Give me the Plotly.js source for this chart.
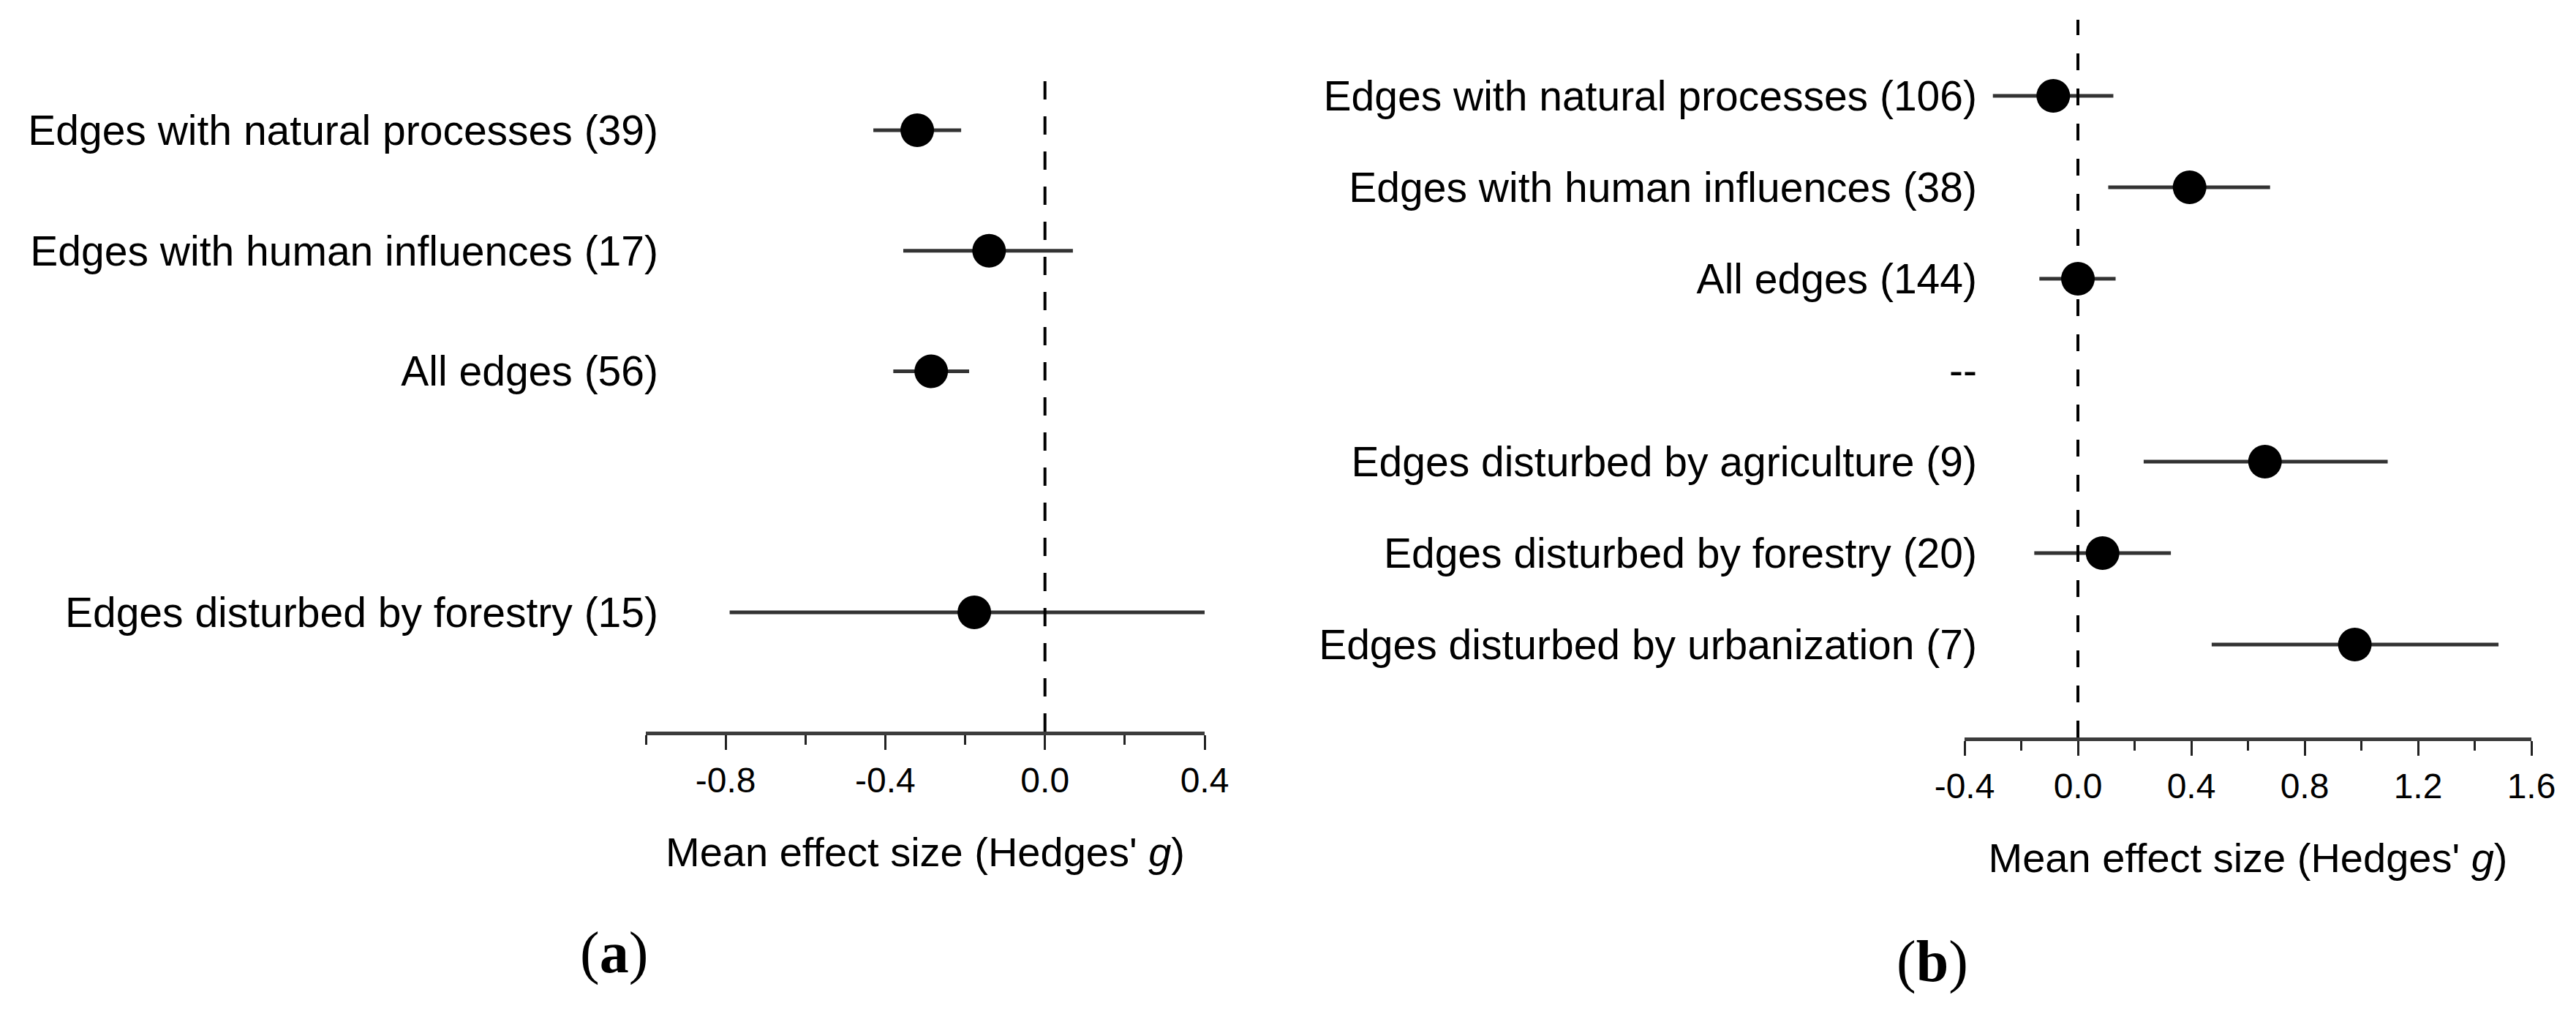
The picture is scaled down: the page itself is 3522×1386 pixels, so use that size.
<!DOCTYPE html>
<html>
<head>
<meta charset="utf-8">
<script src="https://cdn.plot.ly/plotly-3.0.1.min.js"></script>
<style>
  body { margin: 0; background: #fff; }
  #chart { width: 3522px; height: 1386px; }
</style>
</head>
<body>
<div id="chart"></div>
<script>
// panel (a)
const labelsA = ['Edges with natural processes (39)', 'Edges with human influences (17)', 'All edges (56)', ' ', 'Edges disturbed by forestry (15)']
const meanA = [-0.32, -0.14, -0.285, null, -0.177]
const lowA = [-0.43, -0.355, -0.38, null, -0.79]
const highA = [-0.21, 0.07, -0.19, null, 0.40]
const tickValsA = [-0.8, -0.4, 0.0, 0.4]
const tickTextA = ['-0.8', '-0.4', '0.0', '0.4']

// panel (b)
const labelsB = ['Edges with natural processes (106)', 'Edges with human influences (38)', 'All edges (144)', '--', 'Edges disturbed by agriculture (9)', 'Edges disturbed by forestry (20)', 'Edges disturbed by urbanization (7)']
const meanB = [-0.087, 0.394, 0.0, null, 0.66, 0.087, 0.977]
const lowB = [-0.30, 0.107, -0.136, null, 0.232, -0.154, 0.472]
const highB = [0.125, 0.678, 0.133, null, 1.093, 0.328, 1.484]
const tickValsB = [-0.4, 0.0, 0.4, 0.8, 1.2, 1.6]
const tickTextB = ['-0.4', '0.0', '0.4', '0.8', '1.2', '1.6']

const W = 3522, H = 1386
const FONT = 'Liberation Sans, Arial, sans-serif'

const makeTrace = (means, lows, highs, labels, xa, ya) => {
    return {
        type: 'scatter',
        mode: 'markers',
        x: means,
        y: labels,
        xaxis: xa,
        yaxis: ya,
        marker: {color: '#000', size: 46},
        error_x: {
            type: 'data',
            symmetric: false,
            array: highs.map((h, i) => h === null ? null : h - means[i]),
            arrayminus: lows.map((l, i) => l === null ? null : means[i] - l),
            thickness: 5,
            width: 0,
            color: '#333'
        },
        hoverinfo: 'skip'
    }
}

const xBase = {
    showline: true, linecolor: '#3c3c3c', linewidth: 5,
    ticks: 'outside', ticklen: 20, tickwidth: 3, tickcolor: '#222',
    tickmode: 'array',
    minor: {tick0: 0, dtick: 0.2, ticks: 'outside', ticklen: 13, tickwidth: 3, tickcolor: '#222'},
    showgrid: false, zeroline: false,
    tickfont: {family: FONT, size: 48, color: '#000'},
    title: {text: "Mean effect size (Hedges' <i>g</i>)", font: {family: FONT, size: 56, color: '#000'}, standoff: 55},
    automargin: false, fixedrange: true
}
const yBase = {
    type: 'category', anchor: 'free',
    showline: false, ticks: '', showgrid: false, zeroline: false,
    tickfont: {family: FONT, size: 57, color: '#000'},
    automargin: false, fixedrange: true
}

const data = [
    makeTrace(meanA, lowA, highA, labelsA, 'x', 'y'),
    makeTrace(meanB, lowB, highB, labelsB, 'x2', 'y2')
]

const layout = {
    width: W, height: H,
    margin: {l: 0, r: 0, t: 0, b: 0},
    paper_bgcolor: '#fff', plot_bgcolor: 'rgba(0,0,0,0)',
    showlegend: false,
    xaxis: Object.assign({}, xBase, {domain: [883 / W, 1647 / W], range: [-1.0, 0.4], anchor: 'y',
        tickvals: tickValsA, ticktext: tickTextA}),
    yaxis: Object.assign({}, yBase, {domain: [1 - 1000 / H, 1 - 94 / H], range: [4.99, -0.51],
        categoryorder: 'array', categoryarray: labelsA, position: 900 / W}),
    xaxis2: Object.assign({}, xBase, {domain: [2686 / W, 3461 / W], range: [-0.4, 1.6], anchor: 'y2',
        tickvals: tickValsB, ticktext: tickTextB}),
    yaxis2: Object.assign({}, yBase, {domain: [1 - 1008 / H, 1 - 27 / H], range: [7.016, -0.832],
        categoryorder: 'array', categoryarray: labelsB, position: 2703 / W}),
    shapes: [
        {type: 'line', xref: 'x', yref: 'y domain', x0: 0, x1: 0, y0: 0, y1: 1,
         line: {color: '#000', width: 4, dash: '25px,23px'}},
        {type: 'line', xref: 'x2', yref: 'y2 domain', x0: 0, x1: 0, y0: 0, y1: 1,
         line: {color: '#000', width: 4, dash: '23px,25px'}}
    ],
    annotations: [
        {text: '(<b>a</b>)', xref: 'paper', yref: 'paper', x: 839 / W, y: 1 - 1302 / H,
         xanchor: 'center', yanchor: 'middle', showarrow: false,
         font: {family: 'Liberation Serif, Times New Roman, serif', size: 80, color: '#000'}},
        {text: '(<b>b</b>)', xref: 'paper', yref: 'paper', x: 2642 / W, y: 1 - 1314 / H,
         xanchor: 'center', yanchor: 'middle', showarrow: false,
         font: {family: 'Liberation Serif, Times New Roman, serif', size: 80, color: '#000'}}
    ]
}

Plotly.newPlot('chart', data, layout, {staticPlot: true})
</script>
</body>
</html>
